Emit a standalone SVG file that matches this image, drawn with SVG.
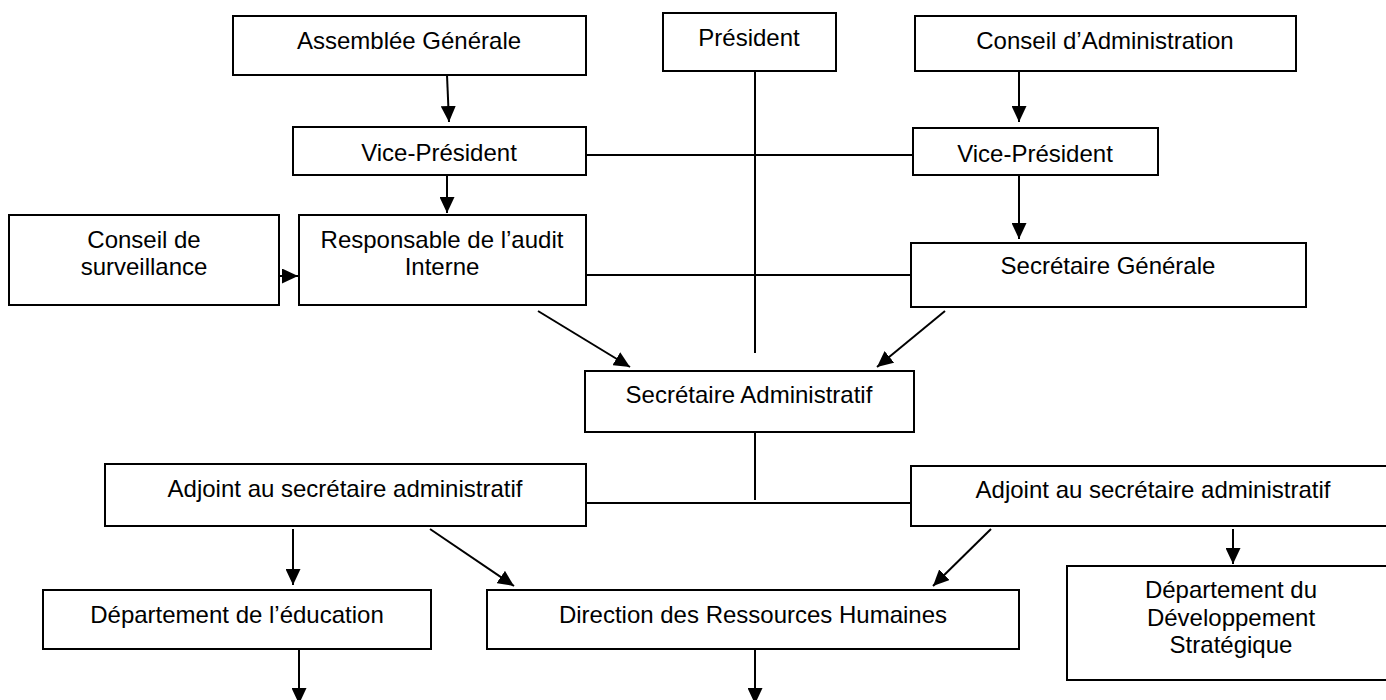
<svg xmlns="http://www.w3.org/2000/svg" width="1386" height="700" viewBox="0 0 1386 700">
  <style>
    .box { fill: #ffffff; stroke: #000000; stroke-width: 2; }
    .lbl { font-family: "Liberation Sans", Arial, sans-serif; font-size: 24px; fill: #000000; text-anchor: middle; }
    .ln { stroke: #000000; stroke-width: 2; fill: none; }
    .ar { stroke: #000000; stroke-width: 2; fill: none; marker-end: url(#arrow); }
  </style>
  <defs>
    <marker id="arrow" markerUnits="userSpaceOnUse" markerWidth="16" markerHeight="15" refX="16" refY="7.5" orient="auto">
      <path d="M0,0 L16,7.5 L0,15 z" fill="#000000"/>
    </marker>
  </defs>
  <rect width="1386" height="700" fill="#ffffff"/>

  <g id="connectors">
    <line class="ar" x1="447" y1="75" x2="449" y2="122"/>
    <line class="ar" x1="447" y1="175" x2="447" y2="213"/>
    <line class="ar" x1="1019" y1="71" x2="1019" y2="122"/>
    <line class="ar" x1="1019" y1="175" x2="1019" y2="239"/>
    <line class="ar" x1="279" y1="276" x2="298" y2="276"/>
    <line class="ln" x1="755" y1="71" x2="755" y2="353"/>
    <line class="ln" x1="586" y1="155" x2="912" y2="155"/>
    <line class="ln" x1="586" y1="275" x2="912" y2="275"/>
    <line class="ar" x1="538" y1="311" x2="630" y2="367"/>
    <line class="ar" x1="945" y1="311" x2="877" y2="367"/>
    <line class="ln" x1="755" y1="432" x2="755" y2="500"/>
    <line class="ln" x1="586" y1="503" x2="911" y2="503"/>
    <line class="ar" x1="293" y1="529" x2="293" y2="585"/>
    <line class="ar" x1="430" y1="529" x2="514" y2="586"/>
    <line class="ar" x1="991" y1="529" x2="933" y2="586"/>
    <line class="ar" x1="1233" y1="529" x2="1233" y2="564"/>
    <line class="ar" x1="299" y1="649" x2="299" y2="704"/>
    <line class="ar" x1="755" y1="649" x2="755" y2="704"/>
  </g>

  <g id="assemblee">
    <rect class="box" x="233" y="16" width="353" height="59"/>
    <text class="lbl" x="409" y="49">Assemblée Générale</text>
  </g>
  <g id="president">
    <rect class="box" x="663" y="13" width="173" height="58"/>
    <text class="lbl" x="749" y="46">Président</text>
  </g>
  <g id="conseil-admin">
    <rect class="box" x="915" y="16" width="381" height="55"/>
    <text class="lbl" x="1105" y="49">Conseil d’Administration</text>
  </g>
  <g id="vp-left">
    <rect class="box" x="293" y="127" width="293" height="48"/>
    <text class="lbl" x="439" y="161">Vice-Président</text>
  </g>
  <g id="vp-right">
    <rect class="box" x="913" y="128" width="245" height="47"/>
    <text class="lbl" x="1035" y="162">Vice-Président</text>
  </g>
  <g id="conseil-surveillance">
    <rect class="box" x="9" y="215" width="270" height="90"/>
    <text class="lbl" x="144" y="248">Conseil de</text>
    <text class="lbl" x="144" y="275">surveillance</text>
  </g>
  <g id="audit">
    <rect class="box" x="299" y="215" width="287" height="90"/>
    <text class="lbl" x="442" y="248">Responsable de l’audit</text>
    <text class="lbl" x="442" y="275">Interne</text>
  </g>
  <g id="secretaire-generale">
    <rect class="box" x="911" y="243" width="395" height="64"/>
    <text class="lbl" x="1108" y="274">Secrétaire Générale</text>
  </g>
  <g id="secretaire-administratif">
    <rect class="box" x="585" y="371" width="329" height="61"/>
    <text class="lbl" x="749" y="403">Secrétaire Administratif</text>
  </g>
  <g id="adjoint-left">
    <rect class="box" x="105" y="464" width="481" height="62"/>
    <text class="lbl" x="345" y="497">Adjoint au secrétaire administratif</text>
  </g>
  <g id="adjoint-right">
    <rect class="box" x="911" y="466" width="485" height="60"/>
    <text class="lbl" x="1153" y="498">Adjoint au secrétaire administratif</text>
  </g>
  <g id="dept-education">
    <rect class="box" x="43" y="590" width="388" height="59"/>
    <text class="lbl" x="237" y="623">Département de l’éducation</text>
  </g>
  <g id="drh">
    <rect class="box" x="487" y="590" width="532" height="59"/>
    <text class="lbl" x="753" y="623">Direction des Ressources Humaines</text>
  </g>
  <g id="dept-dev">
    <rect class="box" x="1067" y="566" width="329" height="114"/>
    <text class="lbl" x="1231" y="598">Département du</text>
    <text class="lbl" x="1231" y="626">Développement</text>
    <text class="lbl" x="1231" y="653">Stratégique</text>
  </g>
</svg>
